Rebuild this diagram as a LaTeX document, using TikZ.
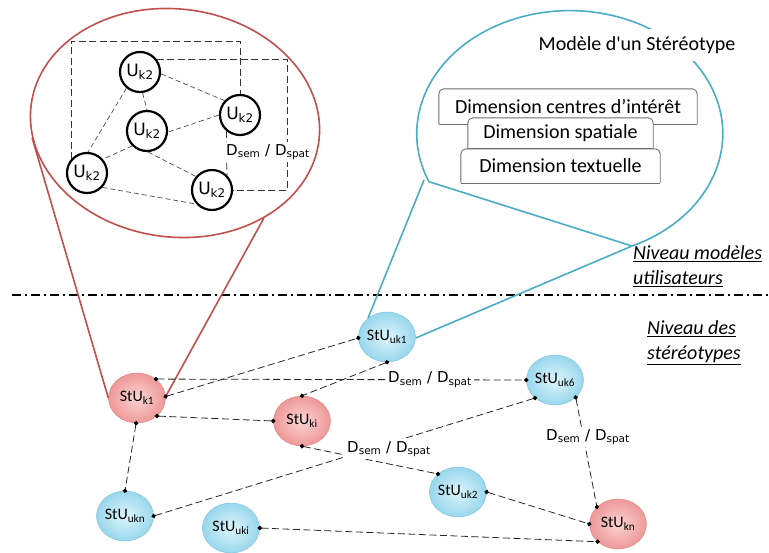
\documentclass[tikz,border=0pt]{standalone}
\usepackage{fontspec}
\setmainfont{Carlito}
\newfontfamily\dvsans{DejaVu Sans}
\usepackage{xcolor}
\usepackage{tikz}
\usetikzlibrary{arrows.meta,shapes.geometric}
\definecolor{lensred}{RGB}{192,80,77}
\definecolor{lensblue}{RGB}{75,172,198}
\definecolor{redcore}{RGB}{252,212,212}
\definecolor{redfill}{RGB}{238,152,152}
\definecolor{redrim}{RGB}{214,134,132}
\definecolor{bluecore}{RGB}{222,245,252}
\definecolor{bluefill}{RGB}{152,215,236}
\definecolor{bluerim}{RGB}{124,190,214}
\definecolor{boxgrey}{RGB}{110,110,110}
\newcommand{\stulabelfont}{\fontsize{16}{19}\selectfont}
\newcommand{\ulabelfont}{\dvsans\fontsize{17}{20}\selectfont}
\newcommand{\dlabelfont}{\dvsans\fontsize{15}{18}\selectfont}
\newcommand{\dimlabelfont}{\fontsize{20}{24}\selectfont}
\newcommand{\levellabelfont}{\itshape\fontsize{20}{25}\selectfont}
\newcommand{\dsemspat}{D\textsubscript{sem} / D\textsubscript{spat}}
\newcommand{\dimframe}[1]{%
  \draw[boxedge,rounded corners=5pt] (#1.south west) -- (#1.north west)
    -- (#1.north east) -- (#1.south east);
  \draw[boxedge] (#1.south west) -- (#1.south east);}
\tikzset{
  stured/.style={ellipse,draw=redrim,thin,inner color=redcore,outer color=redfill,
    minimum width=57pt,minimum height=50pt,inner sep=0pt,font=\stulabelfont},
  stublue/.style={ellipse,draw=bluerim,thin,inner color=bluecore,outer color=bluefill,
    minimum width=57pt,minimum height=50pt,inner sep=0pt,font=\stulabelfont},
  usernode/.style={circle,draw=black,line width=2.2pt,fill=white,
    minimum size=40pt,inner sep=0pt,font=\ulabelfont},
  enddot/.tip={Circle[length=4.4pt,fill=black,color=black]},
  link/.style={enddot-enddot,shorten <=-2.2pt,shorten >=-2.2pt,draw=black!85,
    line width=0.8pt,dash pattern=on 7pt off 3.5pt},
  userlink/.style={draw=black!70,line width=0.7pt,dash pattern=on 5pt off 3pt},
  elbow/.style={draw=black!80,line width=0.8pt,dash pattern=on 7pt off 3.5pt},
  dimlabel/.style={fill=white,inner sep=2pt,font=\dlabelfont},
  dimbox/.style={fill=white,inner sep=0pt,font=\dimlabelfont},
  boxedge/.style={draw=boxgrey,line width=0.9pt},
  lens/.style={line width=1.6pt},
  levelsep/.style={line width=1.3pt,dash pattern=on 9pt off 4pt on 2pt off 4pt},
  leveltext/.style={font=\levellabelfont,align=left,anchor=west,inner sep=0pt}
}

\begin{document}
\begin{tikzpicture}[x=1pt,y=-1pt]
  \useasboundingbox (0,0) rectangle (769,552);

  \node[ellipse,draw=lensred,lens,minimum width=290pt,minimum height=228pt,
    rotate=-7] (redlens) at (175,123) {};
  \coordinate (blueright) at (632,246);
  \coordinate (blueleft) at (424,180);
  \draw[lensblue,lens] (blueright) arc [start angle=66,end angle=-203,
    x radius=153,y radius=123] -- cycle;
  \node[fill=white,inner xsep=4pt,inner ysep=7pt,font=\dimlabelfont] (model)
    at (637,45) {Modèle d\textquotesingle un Stéréotype};

  \node[dimbox,minimum width=258pt,minimum height=35pt] (dimcentres)
    at (568,106.5) {Dimension centres d’intérêt};
  \dimframe{dimcentres}
  \node[dimbox,minimum width=185pt,minimum height=30pt] (dimspatial)
    at (560.5,133) {Dimension spatiale};
  \dimframe{dimspatial}
  \node[dimbox,minimum width=199pt,minimum height=34pt] (dimtext)
    at (560.5,166) {Dimension textuelle\hspace{8pt}};
  \dimframe{dimtext}

  \node[usernode] (ua) at (140,72) {U\textsubscript{k2}};
  \node[usernode] (ub) at (147,131) {U\textsubscript{k2}};
  \node[usernode] (uc) at (240,115) {U\textsubscript{k2}};
  \node[usernode] (ud) at (87,173) {U\textsubscript{k2}};
  \node[usernode] (ue) at (212,190) {U\textsubscript{k2}};
  \coordinate (topbend) at (240,41);
  \coordinate (rightbend) at (287,190);
  \draw[elbow] (ud.139) |- (topbend) -- (uc.north);
  \draw[elbow] (ua.38) -| (rightbend) -- (ue.east);
  \draw[elbow] (uc.-130) -- (ue.45);
  \draw[userlink] (ua.-5) -- (uc.137);
  \draw[userlink] (ua.-83) -- (ub.90);
  \draw[userlink] (ua.-130) -- (ud.87);
  \draw[userlink] (uc.180) -- (ub.-3);
  \draw[userlink] (ub.-135) -- (ud.41);
  \draw[userlink] (ub.-87) -- (ue.140);
  \draw[userlink] (ud.-43) -- (ue.-138);
  \node[dimlabel] (dinset) at (268,152) {\dsemspat};

  \draw[levelsep] (12,295) -- (769,295);
  \node[leveltext] (levelmodel) at (633,266)
    {\underline{Niveau modèles}\\\underline{utilisateurs}};
  \node[leveltext] (levelstereo) at (647,343)
    {\underline{Niveau des}\\\underline{stéréotypes}};

  \node[stured] (k1) at (137,398) {StU\textsubscript{k1}};
  \node[stublue] (uk1) at (387,337) {StU\textsubscript{uk1}};
  \node[stured] (ki) at (302,421) {StU\textsubscript{ki}};
  \node[stublue] (ukn) at (125,516) {StU\textsubscript{ukn}};
  \node[stublue] (uki) at (231,528) {StU\textsubscript{uki}};
  \node[stublue] (uk6) at (555,380) {StU\textsubscript{uk6}};
  \node[stublue] (uk2) at (458,492) {StU\textsubscript{uk2}};
  \node[stured] (kn) at (618,524) {StU\textsubscript{kn}};

  \draw[lensred,lens] (redlens.193) -- (k1.180);
  \draw[lensred,lens] (redlens.-40) -- (k1.3);
  \draw[lensblue,lens] (blueleft) -- (uk1.135);
  \draw[lensblue,lens] (blueright) -- (uk1.-2);

  \draw[link] (k1.3) -- (uk1.182);
  \draw[link] (k1.45) -- node[dimlabel,pos=.74] (dtop) {\dsemspat} (uk6.180);
  \draw[link] (uk1.-90) -- (ki.90);
  \draw[link] (k1.-42) -- (ki.180);
  \draw[link] (k1.-92) -- (ukn.90);
  \draw[link] (ki.-90) -- (uk2.138);
  \draw[link] (ukn.0) -- (uk6.-138);
  \draw[link] (uk6.-40) -- (kn.141);
  \draw[link] (uk2.0) -- (kn.180);
  \draw[link] (uki.0) -- (kn.-139);
  \node[dimlabel] (dcross) at (389,449) {\dsemspat};
  \node[dimlabel] (dright) at (588,437) {\dsemspat};
\end{tikzpicture}
\end{document}
